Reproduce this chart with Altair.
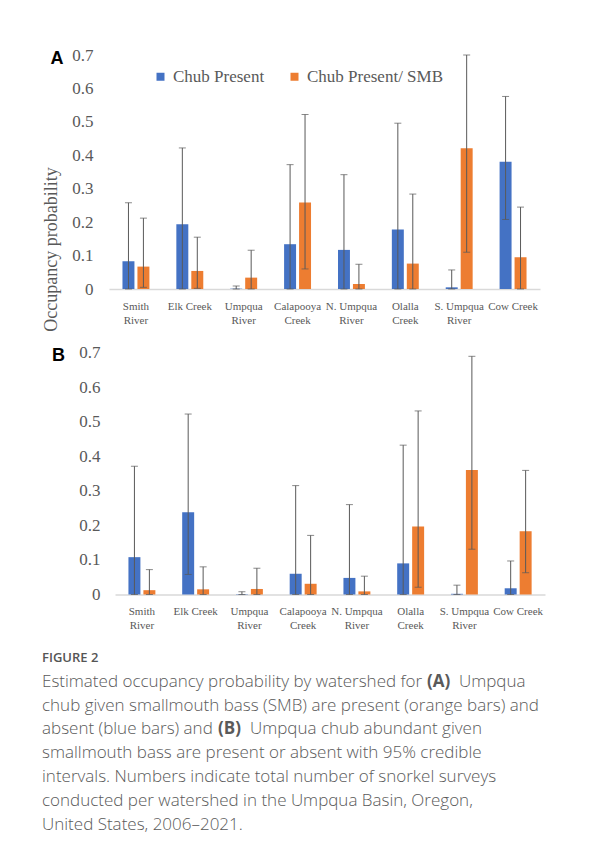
import json
import altair as alt
import pandas as pd

# ---------------- data ----------------
categories = ["Smith River", "Elk Creek", "Umpqua River", "Calapooya Creek",
              "N. Umpqua River", "Olalla Creek", "S. Umpqua River", "Cow Creek"]
label_lines = [["Smith", "River"], ["Elk Creek"], ["Umpqua", "River"], ["Calapooya", "Creek"],
               ["N. Umpqua", "River"], ["Olalla", "Creek"], ["S. Umpqua", "River"], ["Cow Creek"]]
series = ["Chub Present", "Chub Present/ SMB"]
colors = ["#4472C4", "#ED7D31"]
y_ticks = [0, 0.1, 0.2, 0.3, 0.4, 0.5, 0.6, 0.7]

# Panel A
a_present = [0.083, 0.194, 0.001, 0.134, 0.117, 0.178, 0.005, 0.381]
a_present_lo = [0.0, 0.0, 0.0, 0.0, 0.0, 0.0, 0.0, 0.208]
a_present_hi = [0.258, 0.422, 0.009, 0.372, 0.342, 0.496, 0.057, 0.576]
a_smb = [0.067, 0.054, 0.034, 0.259, 0.015, 0.076, 0.421, 0.095]
a_smb_lo = [0.005, 0.002, 0.0, 0.060, 0.0, 0.0, 0.110, 0.0]
a_smb_hi = [0.212, 0.155, 0.116, 0.522, 0.074, 0.284, 0.700, 0.245]

# Panel B
b_present = [0.108, 0.238, 0.001, 0.060, 0.048, 0.090, 0.002, 0.018]
b_present_lo = [0.0, 0.058, 0.0, 0.0, 0.0, 0.0, 0.0, 0.0]
b_present_hi = [0.371, 0.522, 0.008, 0.315, 0.260, 0.432, 0.027, 0.097]
b_smb = [0.0125, 0.015, 0.016, 0.031, 0.009, 0.197, 0.360, 0.183]
b_smb_lo = [0.0, 0.0, 0.0, 0.0, 0.0, 0.021, 0.131, 0.063]
b_smb_hi = [0.072, 0.080, 0.076, 0.171, 0.053, 0.531, 0.689, 0.359]

caption_title = "FIGURE 2"
caption_lines = [
    ["Estimated occupancy probability by watershed for ", "(A)", " Umpqua"],
    ["chub given smallmouth bass (SMB) are present (orange bars) and"],
    ["absent (blue bars) and ", "(B)", " Umpqua chub abundant given"],
    ["smallmouth bass are present or absent with 95% credible"],
    ["intervals. Numbers indicate total number of snorkel surveys"],
    ["conducted per watershed in the Umpqua Basin, Oregon,"],
    ["United States, 2006\u20132021."],
]

SERIF = "Liberation Serif"
SANS = "Liberation Sans"
CAP_FONT = "Open Sans"
GRAY = "#595959"


def long_df(pres, pres_lo, pres_hi, smb, smb_lo, smb_hi):
    rows = []
    for i, c in enumerate(categories):
        rows.append(dict(watershed=c, series=series[0], value=pres[i], lo=pres_lo[i], hi=pres_hi[i]))
        rows.append(dict(watershed=c, series=series[1], value=smb[i], lo=smb_lo[i], hi=smb_hi[i]))
    return pd.DataFrame(rows)


label_expr = "".join(
    f"datum.value == {json.dumps(c)} ? {json.dumps(l)} : " for c, l in zip(categories, label_lines)
) + "datum.label"


def text_layer(txt, x, y, size, weight="normal", font=SANS, color="black", align="center"):
    return alt.Chart(pd.DataFrame({"t": [txt]})).mark_text(
        font=font, fontSize=size, fontWeight=weight, color=color, align=align, baseline="middle"
    ).encode(text="t:N", x=alt.value(x), y=alt.value(y))


def panel(df, plot_w, plot_h, x_start, ylab_pad, letter, letter_xy, show_legend, y_title, extra=()):
    x = alt.X("watershed:N", sort=categories, title=None,
              scale=alt.Scale(paddingInner=0.5, paddingOuter=0.25, range=[x_start, plot_w]),
              axis=alt.Axis(labelAngle=0, labelExpr=label_expr, labelFont=SERIF, labelFontSize=11,
                            labelColor=GRAY, labelPadding=11, labelLineHeight=14, ticks=False,
                            domainColor="#D9D9D9", domainWidth=1.5, labelBaseline="top"))
    xoff = alt.XOffset("series:N", sort=series, scale=alt.Scale(paddingInner=0.2, paddingOuter=0))
    yaxis_kw = dict(values=y_ticks, labelExpr="datum.value == 0 ? '0' : format(datum.value, '.1f')",
                    grid=False, domain=False, ticks=False, labelFont=SERIF, labelFontSize=17,
                    labelColor=GRAY, labelPadding=ylab_pad, labelOverlap=False)
    if y_title:
        yaxis_kw.update(title=y_title, titleFont=SERIF, titleFontSize=18, titleFontWeight="normal",
                        titleColor=GRAY, titleAngle=270, titleX=-58, titleY=194,
                        titleBaseline="middle", titleAlign="center")
    else:
        yaxis_kw.update(title=None)
    yscale = alt.Scale(domain=[0, 0.7], nice=False)
    y = alt.Y("value:Q", scale=yscale, axis=alt.Axis(**yaxis_kw))
    y_lo = alt.Y("lo:Q", scale=yscale, axis=alt.Axis(**yaxis_kw))
    y_hi = alt.Y("hi:Q", scale=yscale, axis=alt.Axis(**yaxis_kw))

    if show_legend:
        legend = alt.Legend(orient="none", legendX=43, legendY=13, direction="horizontal", title=None,
                            symbolType="square", symbolSize=64, symbolStrokeWidth=0,
                            labelFont=SERIF, labelFontSize=17, labelColor=GRAY, labelOffset=4,
                            columnPadding=21)
    else:
        legend = None
    color = alt.Color("series:N", sort=series, scale=alt.Scale(domain=series, range=colors), legend=legend)

    base = alt.Chart(df)
    bars = base.mark_bar().encode(x=x, xOffset=xoff, y=y, color=color)
    rules = base.mark_rule(color=GRAY, strokeWidth=1).encode(x=x, xOffset=xoff, y=y_lo, y2="hi:Q")
    cap_lo = base.mark_tick(color=GRAY, thickness=1, size=7).encode(x=x, xOffset=xoff, y=y_lo)
    cap_hi = base.mark_tick(color=GRAY, thickness=1, size=7).encode(x=x, xOffset=xoff, y=y_hi)
    lt = text_layer(letter, letter_xy[0], letter_xy[1], 18, weight="bold", font=SANS, color="black")
    layers = [bars, rules, cap_lo, cap_hi, lt] + list(extra)
    return alt.layer(*layers).properties(width=plot_w, height=plot_h)


df_a = long_df(a_present, a_present_lo, a_present_hi, a_smb, a_smb_lo, a_smb_hi)
df_b = long_df(b_present, b_present_lo, b_present_hi, b_smb, b_smb_lo, b_smb_hi)

# caption as text marks below panel B (positions relative to panel B plot origin)
cap_color = "#5a5a5a"
cap_layers = [text_layer(caption_title, -67, 305.3, 13, weight=600, font=CAP_FONT, color="#555555",
                         align="left")]
line_y = [329.3, 353.3, 376.3, 400.3, 424.3, 448.3, 472.3]
seg_x = {0: [-67, 318, 350], 2: [-67, 109, 141]}
for i, segs in enumerate(caption_lines):
    xs = seg_x.get(i, [-67])
    for j, s in enumerate(segs):
        bold = s.startswith("(") and len(s) == 3
        cap_layers.append(text_layer(s.strip() if j > 0 else s, xs[j], line_y[i], 17,
                                     weight="bold" if bold else 300, font=CAP_FONT,
                                     color=cap_color, align="left"))

panel_a = panel(df_a, 431, 234, 0, 16, "A", (-52, 3.5), True, "Occupancy probability")
panel_b = panel(df_b, 436, 242, 6, 9, "B", (-50.5, 3.8), False, None, extra=cap_layers)

chart = alt.vconcat(panel_a, panel_b, spacing=11.5).resolve_scale(color="independent").resolve_legend(
    color="independent"
).properties(
    padding={"left": 34, "top": 38, "right": 5, "bottom": 5}, background="white"
).configure_view(stroke=None)

chart.save("out.html", embed_options={"renderer": "svg", "actions": False})
